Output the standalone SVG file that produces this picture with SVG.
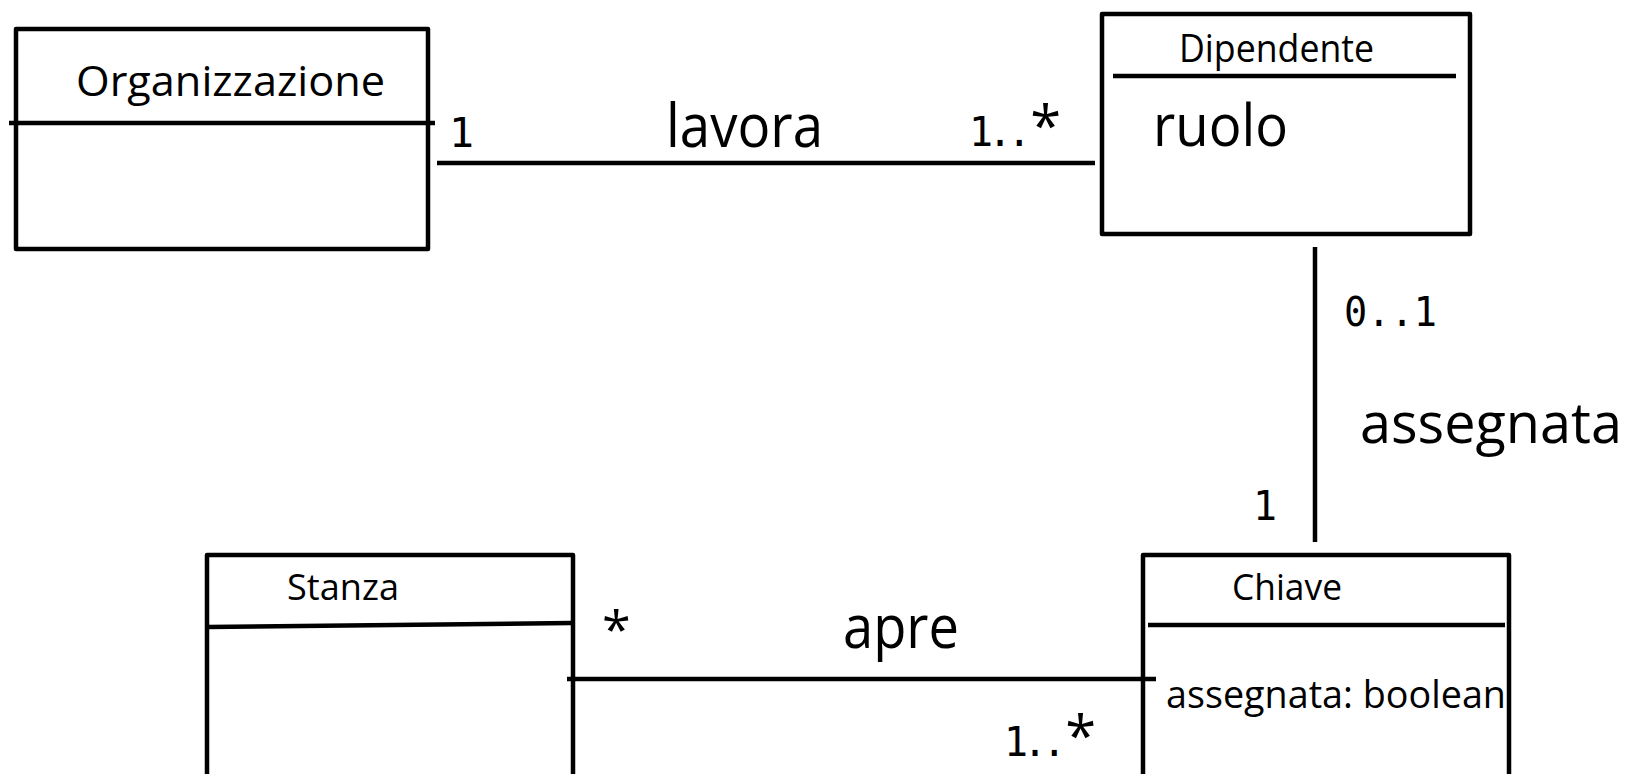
<svg xmlns="http://www.w3.org/2000/svg" width="1630" height="774" viewBox="0 0 1630 774">
<style>
.box{fill:none;stroke:#000;stroke-width:4.5;stroke-linejoin:round}
.ln{stroke:#000;stroke-width:4.5;fill:none;stroke-linecap:butt}
.t{font-family:"Open Sans","Noto Sans",sans-serif;fill:#000}
.m{font-family:"DejaVu Sans Mono","Liberation Mono",monospace;fill:#000}
.mu{font-family:"DejaVu Sans Mono","Liberation Mono",monospace;font-size:40px;fill:#000}
.ds{letter-spacing:-5px}
.st{font-family:"Open Sans","Noto Sans",sans-serif;font-size:56px;letter-spacing:0}
</style>
<rect width="1630" height="774" fill="#fff"/>
<g id="organizzazione">
<rect class="box" x="16" y="29" width="412" height="220"/>
<line class="ln" x1="9" y1="123" x2="435" y2="123"/>
<text class="t" x="76" y="96" font-size="42" textLength="309" lengthAdjust="spacingAndGlyphs">Organizzazione</text>
</g>
<g id="dipendente">
<rect class="box" x="1102" y="14" width="368" height="220"/>
<line class="ln" x1="1113" y1="76" x2="1456" y2="76"/>
<text class="t" x="1179" y="62" font-size="38" textLength="195" lengthAdjust="spacingAndGlyphs">Dipendente</text>
<text class="t" x="1153" y="146" font-size="58" textLength="135" lengthAdjust="spacingAndGlyphs">ruolo</text>
</g>
<g id="stanza">
<rect class="box" x="207" y="555" width="366" height="240"/>
<line class="ln" x1="208" y1="627" x2="571" y2="623"/>
<text class="t" x="287" y="600" font-size="36" textLength="112" lengthAdjust="spacingAndGlyphs">Stanza</text>
</g>
<g id="chiave">
<rect class="box" x="1143" y="555" width="366" height="240"/>
<line class="ln" x1="1148" y1="625" x2="1505" y2="625"/>
<text class="t" x="1232" y="600" font-size="36" textLength="110" lengthAdjust="spacingAndGlyphs">Chiave</text>
<text class="t" x="1166" y="708" font-size="38" textLength="340" lengthAdjust="spacingAndGlyphs">assegnata: boolean</text>
</g>
<g id="connectors">
<line class="ln" x1="437" y1="163" x2="1095" y2="163"/>
<line class="ln" x1="1315" y1="247" x2="1315" y2="542"/>
<line class="ln" x1="567" y1="679" x2="1156" y2="679"/>
<text class="m" x="449" y="147" font-size="40" textLength="25" lengthAdjust="spacingAndGlyphs">1</text>
<text class="t" x="666" y="147" font-size="60" textLength="157" lengthAdjust="spacingAndGlyphs">lavora</text>
<text class="mu" x="969" y="146"><tspan class="ds">1..</tspan><tspan class="st" dx="4">*</tspan></text>
<text class="m" x="1344" y="326" font-size="41" textLength="93" lengthAdjust="spacingAndGlyphs">0..1</text>
<text class="t" x="1360" y="443" font-size="57" textLength="262" lengthAdjust="spacingAndGlyphs">assegnata</text>
<text class="m" x="1253" y="520" font-size="40" textLength="24" lengthAdjust="spacingAndGlyphs">1</text>
<text class="t" x="602" y="648" font-size="52">*</text>
<text class="t" x="843" y="648" font-size="60" textLength="116" lengthAdjust="spacingAndGlyphs">apre</text>
<text class="mu" x="1004" y="756"><tspan class="ds">1..</tspan><tspan class="st" dx="4">*</tspan></text>
</g>
</svg>
